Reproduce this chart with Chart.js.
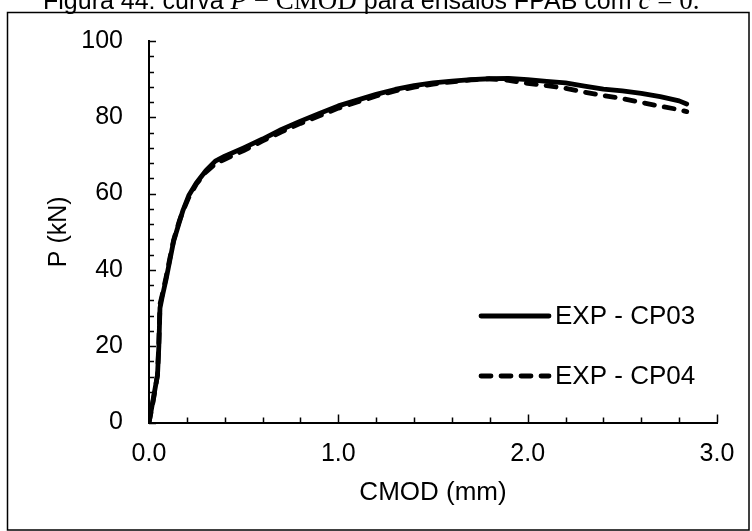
<!DOCTYPE html>
<html>
<head>
<meta charset="utf-8">
<script src="https://cdn.jsdelivr.net/npm/chart.js@4/dist/chart.umd.min.js"></script>
<style>
  html, body { margin: 0; padding: 0; background: #fff; }
  canvas { display: block; }
</style>
</head>
<body>
<canvas id="chart" width="752" height="531"></canvas>
<script>
// Load – CMOD readings, specimen CP03 (mm, kN)
const cmodCP03 = [0.00, 0.02, 0.045, 0.052, 0.058, 0.07, 0.09, 0.11, 0.13, 0.16, 0.18, 0.21, 0.25, 0.30, 0.35, 0.40, 0.50, 0.60, 0.70, 0.80, 0.90, 1.00, 1.10, 1.20, 1.30, 1.40, 1.50, 1.60, 1.70, 1.80, 1.90, 2.00, 2.10, 2.20, 2.30, 2.40, 2.50, 2.60, 2.70, 2.80, 2.84];
const loadCP03 = [0.0, 5.5, 12.5, 20.0, 30.0, 33.0, 37.5, 42.5, 47.5, 52.5, 55.7, 59.5, 62.8, 66.0, 68.5, 69.8, 72.0, 74.3, 76.8, 79.0, 81.0, 83.0, 84.5, 86.0, 87.3, 88.3, 89.0, 89.5, 89.9, 90.1, 90.2, 89.9, 89.4, 89.0, 88.2, 87.4, 86.9, 86.3, 85.4, 84.3, 83.5];

// Load – CMOD readings, specimen CP04 (mm, kN)
const cmodCP04 = [0.00, 0.02, 0.045, 0.052, 0.058, 0.07, 0.09, 0.11, 0.13, 0.16, 0.18, 0.21, 0.25, 0.30, 0.35, 0.40, 0.50, 0.60, 0.70, 0.80, 0.90, 1.00, 1.10, 1.20, 1.30, 1.40, 1.50, 1.60, 1.70, 1.80, 1.90, 2.00, 2.10, 2.20, 2.30, 2.40, 2.50, 2.60, 2.70, 2.80, 2.84];
const loadCP04 = [0.0, 5.0, 12.5, 21.0, 31.0, 33.5, 38.0, 43.0, 47.8, 52.8, 55.5, 59.0, 62.5, 65.6, 67.8, 69.0, 71.3, 73.8, 76.2, 78.4, 80.4, 82.4, 84.0, 85.6, 86.9, 87.9, 88.7, 89.3, 89.8, 90.1, 89.7, 88.9, 88.3, 87.6, 86.6, 85.7, 84.9, 83.9, 82.9, 82.0, 81.5];

const seriesLabels = ['EXP - CP03', 'EXP - CP04'];

// Axis ranges and tick steps
const xRange = [0, 3];
const yRange = [0, 100];
const xMajorStep = 1, xMinorStep = 0.2;
const yMajorStep = 20, yMinorStep = 4;

const FONT = "'Liberation Sans', Arial, sans-serif";
const MATH = "'Liberation Serif', 'DejaVu Serif', serif";
const TEXT_SIZE = 25;

Chart.defaults.color = '#000';
Chart.defaults.font.family = FONT;

const toPoints = (xs, ys) => xs.map((x, i) => ({ x, y: ys[i] }));

// White page with the figure frame
const framePlugin = {
  id: 'frame',
  beforeDraw(chart) {
    const ctx = chart.ctx;
    ctx.save();
    ctx.fillStyle = '#fff';
    ctx.fillRect(0, 0, chart.width, chart.height);
    ctx.strokeStyle = '#000';
    ctx.lineWidth = 1.5;
    ctx.strokeRect(7.5, 12.5, 741.5, 517.5);
    ctx.restore();
  }
};

// Caption line above the frame
const captionPlugin = {
  id: 'caption',
  afterDraw(chart) {
    const ctx = chart.ctx;
    const parts = [
      ['Figura 44: curva ', '25px ' + FONT],
      ['P', 'italic 27px ' + MATH],
      [' \u2212 ', '27px ' + MATH],
      ['CMOD', '27px ' + MATH],
      [' para ensaios FPAB com ', '25px ' + FONT],
      ['c', 'italic 27px ' + MATH],
      [' = 0.', '27px ' + MATH]
    ];
    ctx.save();
    ctx.fillStyle = '#000';
    ctx.textBaseline = 'alphabetic';
    let x = 43;
    for (const [txt, font] of parts) {
      ctx.font = font;
      ctx.fillText(txt, x, 8.5);
      x += ctx.measureText(txt).width;
    }
    ctx.restore();
  }
};

// Inward major/minor tick marks on both axes
const tickPlugin = {
  id: 'innerTicks',
  beforeDatasetsDraw(chart) {
    const { ctx, chartArea: a, scales: { x, y } } = chart;
    ctx.save();
    ctx.strokeStyle = '#000';
    ctx.lineWidth = 1.5;
    ctx.beginPath();
    const ny = Math.round((yRange[1] - yRange[0]) / yMinorStep);
    for (let i = 0; i <= ny; i++) {
      const v = yRange[0] + i * yMinorStep;
      const p = Math.round(y.getPixelForValue(v)) + 0.5;
      const len = (v % yMajorStep === 0) ? 7 : 5;
      ctx.moveTo(a.left, p);
      ctx.lineTo(a.left + len, p);
    }
    const nx = Math.round((xRange[1] - xRange[0]) / xMinorStep);
    for (let i = 0; i <= nx; i++) {
      const v = xRange[0] + i * xMinorStep;
      const p = Math.round(x.getPixelForValue(v)) + 0.5;
      const len = (i % Math.round(xMajorStep / xMinorStep) === 0) ? 8 : 5;
      ctx.moveTo(p, a.bottom);
      ctx.lineTo(p, a.bottom - len);
    }
    ctx.stroke();
    ctx.restore();
  }
};

// Legend inside the plot: line sample followed by the series name
const legendPlugin = {
  id: 'sampleLegend',
  afterDraw(chart) {
    const ctx = chart.ctx;
    const rows = [316, 376];
    ctx.save();
    chart.data.datasets.forEach((ds, i) => {
      const yy = rows[i];
      ctx.strokeStyle = ds.borderColor;
      ctx.lineWidth = ds.borderWidth;
      ctx.lineCap = 'round';
      ctx.setLineDash(ds.borderDash || []);
      ctx.beginPath();
      ctx.moveTo(481, yy);
      ctx.lineTo(549, yy);
      ctx.stroke();
      ctx.setLineDash([]);
      ctx.fillStyle = '#000';
      ctx.font = '26px ' + FONT;
      ctx.textBaseline = 'middle';
      ctx.textAlign = 'left';
      ctx.fillText(ds.label, 555, yy + 1);
    });
    ctx.restore();
  }
};

new Chart(document.getElementById('chart'), {
  type: 'line',
  data: {
    datasets: [
      {
        label: seriesLabels[0],
        data: toPoints(cmodCP03, loadCP03),
        borderColor: '#000',
        borderWidth: 4.8,
        borderDash: [],
        borderCapStyle: 'round',
        borderJoinStyle: 'round',
        pointRadius: 0,
        tension: 0,
        fill: false
      },
      {
        label: seriesLabels[1],
        data: toPoints(cmodCP04, loadCP04),
        borderColor: '#000',
        borderWidth: 4.8,
        borderDash: [10, 10],
        borderCapStyle: 'round',
        borderJoinStyle: 'round',
        pointRadius: 0,
        tension: 0,
        fill: false
      }
    ]
  },
  options: {
    responsive: false,
    animation: false,
    devicePixelRatio: 1,
    layout: { padding: { left: 0, right: 35, top: 41, bottom: 0 } },
    plugins: {
      legend: { display: false },
      tooltip: { enabled: false }
    },
    scales: {
      x: {
        type: 'linear',
        min: xRange[0],
        max: xRange[1],
        grid: { display: false, drawTicks: false },
        border: { display: true, color: '#000', width: 2 },
        ticks: {
          stepSize: xMajorStep,
          padding: 17,
          font: { size: TEXT_SIZE },
          callback: v => v.toFixed(1)
        },
        title: {
          display: true,
          text: 'CMOD (mm)',
          font: { size: 26 },
          padding: { top: 0, bottom: 23 }
        },
        afterFit: s => { s.height = 108.5; }
      },
      y: {
        min: yRange[0],
        max: yRange[1],
        grid: { display: false, drawTicks: false },
        border: { display: true, color: '#000', width: 2 },
        ticks: {
          stepSize: yMajorStep,
          padding: 26,
          font: { size: TEXT_SIZE }
        },
        title: {
          display: true,
          text: 'P (kN)',
          font: { size: TEXT_SIZE },
          padding: { top: 44, bottom: 0 }
        },
        afterFit: s => { s.width = 149; }
      }
    }
  },
  plugins: [framePlugin, tickPlugin, legendPlugin, captionPlugin]
});
</script>
</body>
</html>
